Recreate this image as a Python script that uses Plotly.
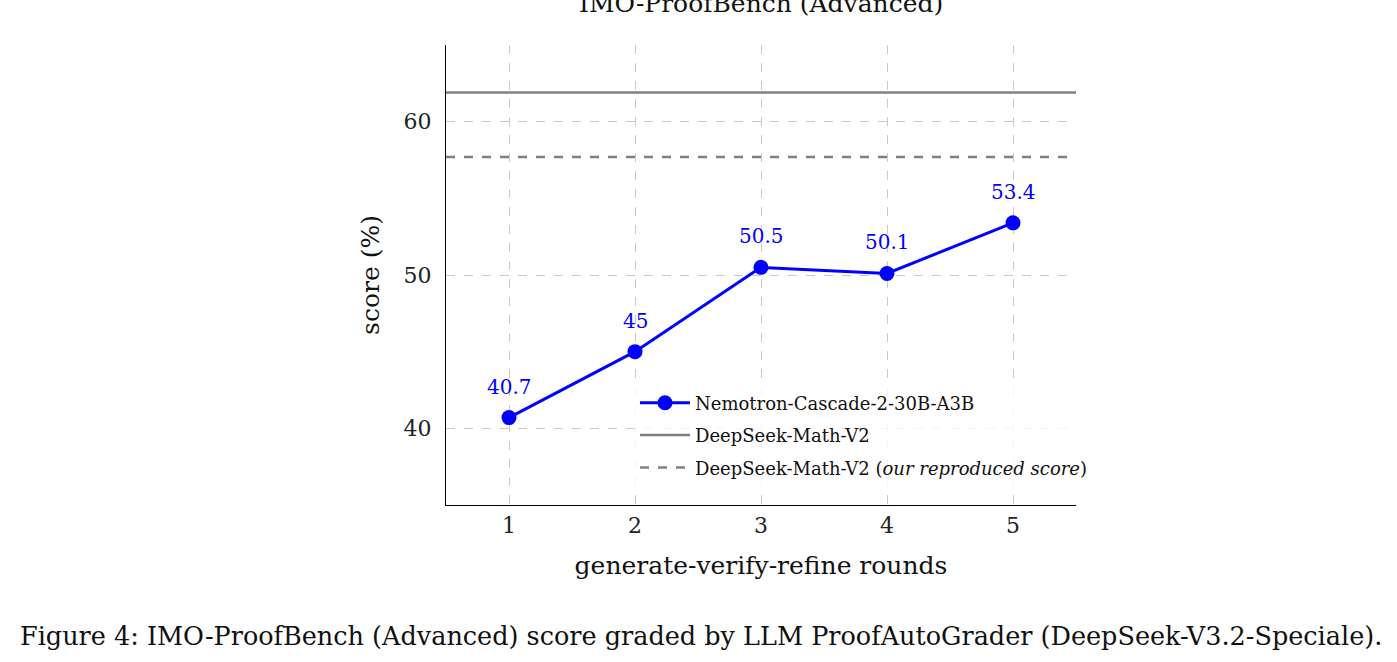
import plotly.graph_objects as go

rounds = [1, 2, 3, 4, 5]
nemotron = [40.7, 45, 50.5, 50.1, 53.4]
labels = ["40.7", "45", "50.5", "50.1", "53.4"]
ds_official = 61.9
ds_repro = 57.7
x_span = [0.5, 5.5]

SERIF = "DejaVu Serif, Liberation Serif, serif"

fig = go.Figure()
fig.add_trace(go.Scatter(
    x=rounds, y=nemotron, mode="lines+markers",
    name="Nemotron-Cascade-2-30B-A3B", legendgroup="a",
    line=dict(color="#0000ff", width=3),
    marker=dict(color="#0000ff", size=15),
))
fig.add_trace(go.Scatter(
    x=x_span, y=[ds_official, ds_official], mode="lines",
    name="DeepSeek-Math-V2", legendgroup="b",
    line=dict(color="#808080", width=2.5),
))
fig.add_trace(go.Scatter(
    x=x_span, y=[ds_repro, ds_repro], mode="lines",
    name="DeepSeek-Math-V2 (<i>our reproduced score</i>)", legendgroup="c",
    line=dict(color="#808080", width=2.5, dash="dash"),
))

for xv, yv, lab in zip(rounds, nemotron, labels):
    fig.add_annotation(x=xv, y=yv, text=lab, showarrow=False, yshift=31,
                       xanchor="center", yanchor="middle",
                       font=dict(color="#0000ff", size=20, family=SERIF))

fig.update_layout(
    width=1397, height=662,
    margin=dict(l=446, r=321, t=45, b=157),
    plot_bgcolor="white", paper_bgcolor="white",
    font=dict(family=SERIF, color="#222"),
    showlegend=True,
    legend=dict(x=0.3, y=0.262, xanchor="left", yanchor="top",
                bgcolor="rgba(255,255,255,0.8)",
                font=dict(size=18, family=SERIF, color="#111"),
                itemwidth=50, tracegroupgap=6),
)
fig.update_xaxes(
    range=x_span, tickvals=rounds, showline=True, linecolor="black", linewidth=1.2,
    showgrid=True, gridcolor="#c8c8c8", griddash="dash", gridwidth=1,
    zeroline=False, ticks="", tickfont=dict(size=22, family=SERIF, color="#222"),
    title=dict(text="generate-verify-refine rounds", font=dict(size=25, family=SERIF, color="#111"), standoff=19),
)
fig.update_yaxes(
    range=[35, 65], tickvals=[40, 50, 60], showline=True, linecolor="black", linewidth=1.2,
    showgrid=True, gridcolor="#c8c8c8", griddash="dash", gridwidth=1,
    zeroline=False, ticks="", ticklabelstandoff=9, tickfont=dict(size=22, family=SERIF, color="#222"),
    title=dict(text="score (%)", font=dict(size=25, family=SERIF, color="#111"), standoff=16),
)

fig.add_annotation(
    text="IMO-ProofBench (Advanced)", xref="paper", yref="paper",
    x=0.5, y=1 + 42 / 460, xanchor="center", yanchor="middle", showarrow=False,
    font=dict(size=25, family=SERIF, color="#111"),
)
fig.add_annotation(
    text="Figure 4: IMO-ProofBench (Advanced) score graded by LLM ProofAutoGrader (DeepSeek-V3.2-Speciale).",
    xref="paper", yref="paper", x=-446 / 630 + 18 / 630, y=-(636 - 505) / 460,
    xanchor="left", yanchor="middle", showarrow=False,
    font=dict(size=25.5, family=SERIF, color="#111"),
)

fig.write_html("out.html")
